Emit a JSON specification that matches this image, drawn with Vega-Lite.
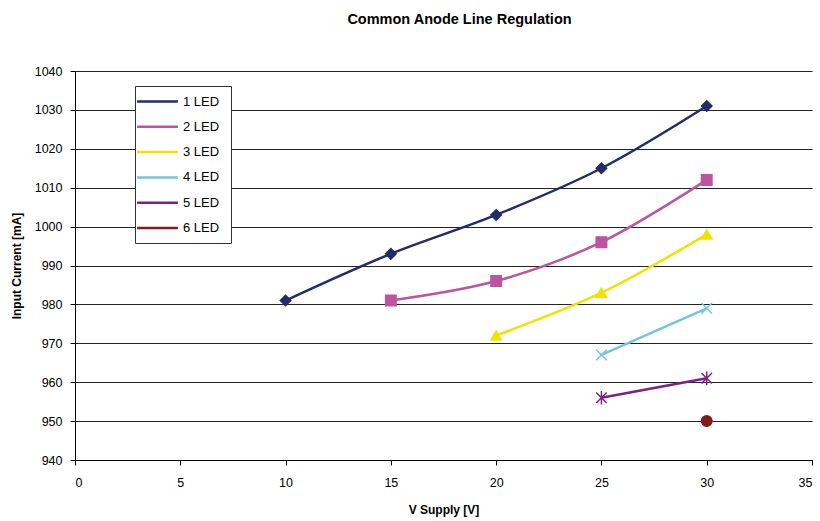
{
  "$schema": "https://vega.github.io/schema/vega-lite/v6.json",
  "autosize": "none",
  "width": 737,
  "height": 389,
  "padding": {"left": 75, "top": 71, "right": 8, "bottom": 61},
  "background": "white",
  "config": {
    "font": "Liberation Sans",
    "view": {"stroke": null},
    "axis": {"labelFont": "Liberation Sans", "titleFont": "Liberation Sans", "labelFontSize": 12.5, "labelColor": "black", "titleColor": "black", "domainColor": "black", "tickColor": "black", "titleFontSize": 12, "titleFontWeight": "bold", "tickSize": 5}
  },
  "title": {"text": "Common Anode Line Regulation", "font": "Liberation Sans", "fontSize": 14.5, "fontWeight": "bold", "color": "black", "anchor": "middle", "dx": 16, "offset": 38},
  "data": {"values": [
    {"series": "1  LED", "v": 10, "i": 981},
    {"series": "1  LED", "v": 15, "i": 993},
    {"series": "1  LED", "v": 20, "i": 1003},
    {"series": "1  LED", "v": 25, "i": 1015},
    {"series": "1  LED", "v": 30, "i": 1031},
    {"series": "2 LED", "v": 15, "i": 981},
    {"series": "2 LED", "v": 20, "i": 986},
    {"series": "2 LED", "v": 25, "i": 996},
    {"series": "2 LED", "v": 30, "i": 1012},
    {"series": "3 LED", "v": 20, "i": 972},
    {"series": "3 LED", "v": 25, "i": 983},
    {"series": "3 LED", "v": 30, "i": 998},
    {"series": "4 LED", "v": 25, "i": 967},
    {"series": "4 LED", "v": 30, "i": 979},
    {"series": "5 LED", "v": 25, "i": 956},
    {"series": "5 LED", "v": 30, "i": 961},
    {"series": "6 LED", "v": 30, "i": 950}
  ]},
  "encoding": {
    "x": {"field": "v", "type": "quantitative", "scale": {"domain": [0, 35], "nice": false}, "axis": {"title": "V Supply [V]", "values": [0,5,10,15,20,25,30,35], "grid": false, "labelPadding": 11, "titlePadding": 16}},
    "y": {"field": "i", "type": "quantitative", "scale": {"domain": [940, 1040], "nice": false, "zero": false}, "axis": {"title": "Input Current [mA]", "format": "d", "values": [940,950,960,970,980,990,1000,1010,1020,1030,1040], "grid": true, "gridColor": "#222222", "gridOpacity": 1, "gridWidth": 1, "labelPadding": 8, "titlePadding": 11}}
  },
  "layer": [
    {
      "mark": {"type": "line", "strokeWidth": 2.5, "interpolate": "catmull-rom"},
      "encoding": {
        "color": {"field": "series", "type": "nominal", "scale": {"domain": ["1  LED","2 LED","3 LED","4 LED","5 LED","6 LED"], "range": ["#232b6d","#bc559f","#f2e200","#72c6dc","#7d2383","#801a1c"]},
          "legend": {"title": null, "orient": "none", "legendX": 60, "legendY": 15, "symbolType": "M-3.4,0L3.4,0", "symbolSize": 144, "symbolStrokeWidth": 2.5, "symbolOffset": 7, "labelOffset": 18, "labelFontSize": 13, "labelColor": "black", "labelFont": "Liberation Sans", "rowPadding": 10.3, "padding": 8, "strokeColor": "#333333", "fillColor": "white"}}
      }
    },
    {
      "mark": {"type": "point", "filled": true, "size": 110, "strokeWidth": 1.5, "opacity": 1},
      "encoding": {
        "color": {"field": "series", "type": "nominal", "legend": null},
        "stroke": {"field": "series", "type": "nominal", "scale": {"domain": ["1  LED","2 LED","3 LED","4 LED","5 LED","6 LED"], "range": ["#232b6d","#bc559f","#f2e200","#72c6dc","#7d2383","#801a1c"]}, "legend": null},
        "shape": {"field": "series", "type": "nominal", "scale": {"range": ["diamond","square","triangle-up","M-1,-1L1,1M-1,1L1,-1","M-1,-1L1,1M-1,1L1,-1M0,-1.3L0,1.3","circle"]}, "legend": null}
      }
    }
  ]
}
